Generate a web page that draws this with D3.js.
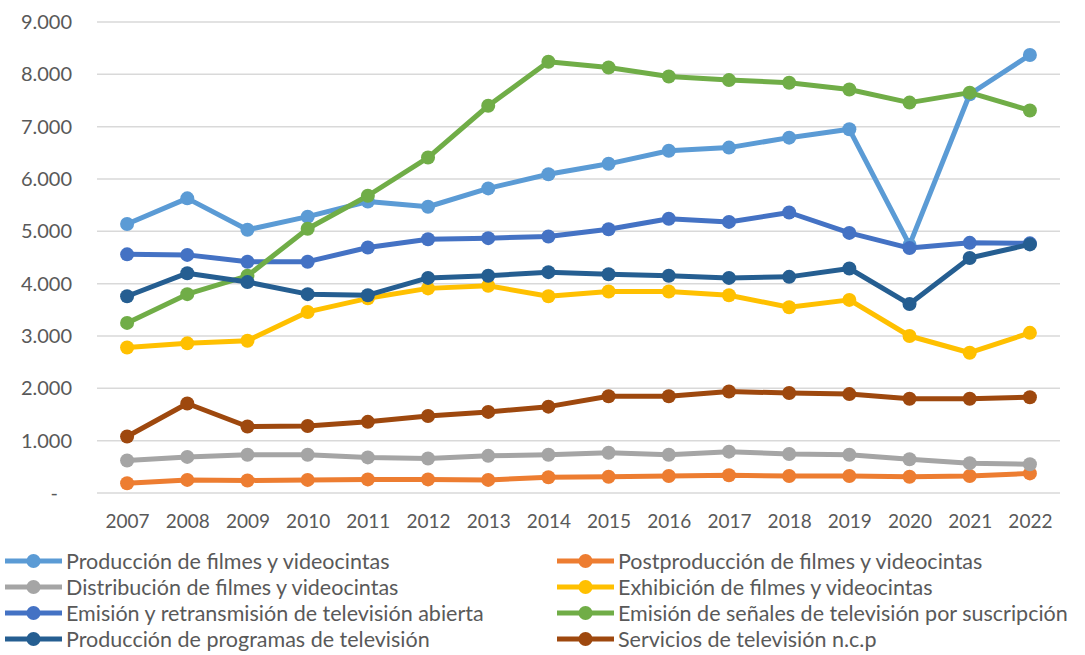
<!DOCTYPE html>
<html>
<head>
<meta charset="utf-8">
<script src="https://cdn.jsdelivr.net/npm/d3@7"></script>
<style>
  body { margin: 0; background: #fff; }
  text { font-family: Lato, "Open Sans", sans-serif; fill: #595959; }
</style>
</head>
<body>
<svg id="chart" width="1085" height="655"></svg>
<script>
const years = ["2007","2008","2009","2010","2011","2012","2013","2014","2015","2016","2017","2018","2019","2020","2021","2022"];
const yTicks = [0, 1000, 2000, 3000, 4000, 5000, 6000, 7000, 8000, 9000];

const produccionFilmes = [5140, 5630, 5030, 5280, 5570, 5470, 5820, 6090, 6290, 6540, 6600, 6790, 6950, 4740, 7620, 8370];
const postproduccion   = [185, 250, 240, 250, 260, 260, 250, 300, 310, 325, 340, 325, 325, 310, 325, 375];
const distribucion     = [620, 690, 730, 730, 680, 660, 710, 730, 770, 730, 790, 745, 730, 645, 570, 550];
const exhibicion       = [2780, 2860, 2910, 3460, 3720, 3910, 3960, 3760, 3850, 3850, 3780, 3550, 3690, 3000, 2680, 3060];
const emisionAbierta   = [4560, 4550, 4420, 4420, 4690, 4850, 4870, 4900, 5040, 5240, 5180, 5360, 4970, 4680, 4780, 4770];
const emisionSuscrip   = [3250, 3800, 4150, 5050, 5680, 6410, 7400, 8240, 8130, 7960, 7890, 7840, 7710, 7460, 7650, 7310];
const produccionProg   = [3760, 4200, 4030, 3800, 3780, 4110, 4150, 4220, 4180, 4150, 4110, 4130, 4290, 3610, 4490, 4750];
const serviciosNcp     = [1080, 1710, 1270, 1280, 1360, 1470, 1550, 1650, 1850, 1850, 1940, 1910, 1890, 1800, 1800, 1830];

const seriesNames = [
  "Producción de filmes y videocintas",
  "Postproducción de filmes y videocintas",
  "Distribución de filmes y videocintas",
  "Exhibición de filmes y videocintas",
  "Emisión y retransmisión de televisión abierta",
  "Emisión de señales de televisión por suscripción",
  "Producción de programas de televisión",
  "Servicios de televisión n.c.p"
];
const seriesColors = ["#5b9bd5", "#ed7d31", "#a5a5a5", "#ffc000", "#4472c4", "#70ad47", "#255e91", "#9e480e"];
const seriesValues = [produccionFilmes, postproduccion, distribucion, exhibicion, emisionAbierta, emisionSuscrip, produccionProg, serviciosNcp];

const svg = d3.select("#chart");

const x = d3.scalePoint().domain(years).range([97, 1060]).padding(0.5);
const y = d3.scaleLinear().domain([0, 9000]).range([493, 22]);

const locale = d3.formatLocale({ decimal: ",", thousands: ".", grouping: [3], currency: ["", ""] });
const fmt = locale.format(",.0f");

// gridlines
svg.append("g")
  .selectAll("line")
  .data(yTicks)
  .enter().append("line")
  .attr("x1", 97).attr("x2", 1060)
  .attr("y1", d => y(d)).attr("y2", d => y(d))
  .attr("stroke", "#d9d9d9")
  .attr("stroke-width", 1.5);

// y axis
const yAxis = svg.append("g")
  .attr("transform", "translate(97,0)")
  .call(d3.axisLeft(y).tickValues(yTicks).tickSize(0).tickPadding(25)
    .tickFormat(d => d === 0 ? "-" : fmt(d)));
yAxis.select(".domain").remove();
yAxis.selectAll("text").style("font-size", "20px").attr("fill", "#595959");
yAxis.selectAll("text").filter(d => d === 0).attr("dx", -14);

// x axis
const xAxis = svg.append("g")
  .attr("transform", "translate(0,493)")
  .call(d3.axisBottom(x).tickSize(0).tickPadding(22));
xAxis.select(".domain").remove();
xAxis.selectAll("text").style("font-size", "19px").attr("fill", "#595959");

// lines
const line = d3.line().x((d, i) => x(years[i])).y(d => y(d));

seriesValues.forEach((vals, s) => {
  const g = svg.append("g");
  g.append("path")
    .datum(vals)
    .attr("fill", "none")
    .attr("stroke", seriesColors[s])
    .attr("stroke-width", 5)
    .attr("stroke-linejoin", "round")
    .attr("d", line);
  g.selectAll("circle")
    .data(vals)
    .enter().append("circle")
    .attr("cx", (d, i) => x(years[i]))
    .attr("cy", d => y(d))
    .attr("r", 7)
    .attr("fill", seriesColors[s]);
});

// legend
const legend = svg.append("g");
seriesNames.forEach((name, i) => {
  const col = i % 2, row = Math.floor(i / 2);
  const lx = col === 0 ? 5 : 557;
  const ly = 561 + row * 26;
  const item = legend.append("g").attr("transform", `translate(${lx},${ly})`);
  item.append("line").attr("x1", 0).attr("x2", 57).attr("y1", 0).attr("y2", 0)
    .attr("stroke", seriesColors[i]).attr("stroke-width", 5);
  item.append("circle").attr("cx", 28.5).attr("cy", 0).attr("r", 7).attr("fill", seriesColors[i]);
  item.append("text").attr("x", 61).attr("y", 0).attr("dy", "0.35em")
    .style("font-size", "21.5px").text(name);
});
</script>
</body>
</html>
